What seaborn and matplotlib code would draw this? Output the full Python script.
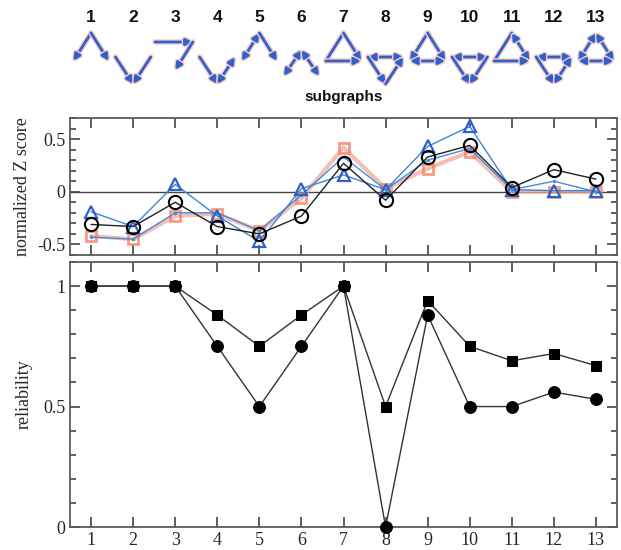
import matplotlib
matplotlib.use('Agg')
import matplotlib.pyplot as plt
import matplotlib.patheffects as pe
from matplotlib.ticker import MultipleLocator
import seaborn as sns
import pandas as pd

# subgraph ids 1..13
subgraphs = list(range(1, 14))

# normalized Z score panel
z_circle = [-0.31, -0.33, -0.10, -0.33, -0.40, -0.23, 0.27, -0.08, 0.33, 0.44, 0.04, 0.21, 0.12]
z_triangle = [-0.19, -0.33, 0.07, -0.23, -0.47, 0.03, 0.16, 0.02, 0.43, 0.62, 0.02, 0.01, 0.01]
z_square = [-0.42, -0.45, -0.23, -0.21, -0.37, -0.06, 0.42, 0.03, 0.22, 0.38, 0.00, 0.00, 0.00]
z_thin = [-0.43, -0.45, -0.20, -0.20, -0.37, -0.03, 0.33, 0.02, 0.30, 0.41, 0.02, 0.10, 0.00]

# reliability panel
rel_square = [1.0, 1.0, 1.0, 0.88, 0.75, 0.88, 1.0, 0.5, 0.94, 0.75, 0.69, 0.72, 0.67]
rel_circle = [1.0, 1.0, 1.0, 0.75, 0.5, 0.75, 1.0, 0.0, 0.88, 0.5, 0.5, 0.56, 0.53]

df_z = pd.DataFrame({'subgraph': subgraphs, 'circle': z_circle, 'triangle': z_triangle,
                     'square': z_square, 'thin': z_thin})
df_r = pd.DataFrame({'subgraph': subgraphs, 'square': rel_square, 'circle': rel_circle})

sns.set_style('ticks')
plt.rcParams['font.family'] = ['Liberation Serif', 'DejaVu Serif']

BLUE = '#2d62c8'
FRAME = '#5a5a5a'

fig = plt.figure(figsize=(6.21, 5.5), dpi=100)
ax_top = fig.add_axes([70 / 621, 1 - 105 / 550, 547 / 621, 105 / 550])
ax_z = fig.add_axes([70 / 621, 1 - 255 / 550, 547 / 621, 137 / 550])
ax_r = fig.add_axes([70 / 621, 1 - 527 / 550, 547 / 621, 265 / 550])


def style_axis(ax):
    for s in ax.spines.values():
        s.set_color(FRAME)
        s.set_linewidth(1.3)
    ax.tick_params(which='both', direction='in', top=True, right=True,
                   color='#333333', width=1.1)
    ax.tick_params(which='major', length=7)
    ax.tick_params(which='minor', length=4)
    ax.tick_params(axis='x', which='minor', top=False, bottom=False)
    ax.set_xlim(0.5, 13.5)
    ax.set_xticks(subgraphs)


# ---- middle panel: normalized Z score
ax_z.axhline(0, color='#444444', lw=1.0, zorder=1)
sns.lineplot(data=df_z, x='subgraph', y='square', ax=ax_z, color='#f6a898', lw=3.0, alpha=0.75,
             marker='s', markersize=7.5, markerfacecolor='none', markeredgecolor='#f47a5e',
             markeredgewidth=2.0, zorder=2)
sns.lineplot(data=df_z, x='subgraph', y='thin', ax=ax_z, color='#3f8fe0', lw=1.0,
             marker='o', markersize=2.5, markeredgewidth=0, zorder=3)
sns.lineplot(data=df_z, x='subgraph', y='triangle', ax=ax_z, color='#3a86dc', lw=1.0,
             marker='^', markersize=8.5, markerfacecolor='none', markeredgecolor=BLUE,
             markeredgewidth=1.6, zorder=4)
sns.lineplot(data=df_z, x='subgraph', y='circle', ax=ax_z, color='#222222', lw=1.0,
             marker='o', markersize=9.5, markerfacecolor='none', markeredgecolor='black',
             markeredgewidth=1.5, zorder=5)
style_axis(ax_z)
ax_z.set_ylim(-0.6, 0.7)
ax_z.set_yticks([-0.5, 0, 0.5])
ax_z.set_yticklabels(['-0.5', '0', '0.5'], fontsize=13)
ax_z.yaxis.set_minor_locator(MultipleLocator(0.1))
ax_z.set_xticklabels([])
ax_z.set_xlabel('')
ax_z.set_ylabel('normalized Z score', fontsize=13)
ax_z.yaxis.set_label_coords(-0.072, 0.5)

# ---- bottom panel: reliability
sns.lineplot(data=df_r, x='subgraph', y='square', ax=ax_r, color='#333333', lw=1.0,
             marker='s', markersize=7.5, markerfacecolor='black', markeredgecolor='black', zorder=3)
sns.lineplot(data=df_r, x='subgraph', y='circle', ax=ax_r, color='#333333', lw=1.0,
             marker='o', markersize=8.5, markerfacecolor='black', markeredgecolor='black', zorder=3,
             clip_on=False)
style_axis(ax_r)
ax_r.set_ylim(0, 1.1)
ax_r.set_yticks([0, 0.5, 1])
ax_r.set_yticklabels(['0', '0.5', '1'], fontsize=13)
ax_r.yaxis.set_minor_locator(MultipleLocator(0.1))
ax_r.set_xticklabels([str(s) for s in subgraphs], fontsize=13)
ax_r.set_xlabel('')
ax_r.set_ylabel('reliability', fontsize=13)
ax_r.yaxis.set_label_coords(-0.068, 0.5)

# ---- top strip: subgraph drawings
ax_top.set_xlim(0.5, 13.5)
ax_top.set_ylim(105, 0)
ax_top.axis('off')

halo = [pe.Stroke(linewidth=4.0, foreground='#f6cccc'), pe.Normal()]
W = 0.42
up = {'A': (0, 33), 'L': (-W, 61), 'R': (W, 61)}
down = {'L': (-W, 57), 'R': (W, 57), 'B': (0, 84)}
low_up = {'A': (0, 50), 'L': (-W, 76), 'R': (W, 76)}
chain = {'P': (-0.48, 42), 'Q': (0.42, 42), 'S': (0.0, 70)}

# (layout, [(from, to, style)]) ; style '>' one way, '<>' both ways, '-' plain
motifs = [
    (up, [('A', 'L', '>'), ('A', 'R', '>')]),
    (down, [('L', 'B', '>'), ('R', 'B', '>')]),
    (chain, [('P', 'Q', '>'), ('Q', 'S', '>')]),
    (down, [('L', 'B', '>'), ('B', 'R', '<>')]),
    (up, [('A', 'L', '<>'), ('A', 'R', '>')]),
    (low_up, [('A', 'L', '<>'), ('A', 'R', '<>')]),
    (up, [('A', 'L', '-'), ('A', 'R', '>'), ('L', 'R', '>')]),
    (down, [('L', 'R', '<>'), ('L', 'B', '>'), ('B', 'R', '>')]),
    (up, [('A', 'L', '>'), ('A', 'R', '>'), ('L', 'R', '<>')]),
    (down, [('L', 'R', '<>'), ('L', 'B', '>'), ('R', 'B', '>')]),
    (up, [('A', 'L', '-'), ('A', 'R', '<>'), ('L', 'R', '>')]),
    (down, [('L', 'R', '<>'), ('L', 'B', '>'), ('R', 'B', '<>')]),
    (up, [('A', 'L', '<>'), ('A', 'R', '<>'), ('L', 'R', '<>')]),
]
styles = {'>': '-|>', '<>': '<|-|>', '-': '-'}

for i, (nodes, edges) in zip(subgraphs, motifs):
    for a, b, st in edges:
        xa, ya = nodes[a]
        xb, yb = nodes[b]
        ax_top.annotate('', xy=(i + xb, yb), xytext=(i + xa, ya),
                        arrowprops=dict(arrowstyle=styles[st], color=BLUE, lw=2.0,
                                        mutation_scale=9.5, shrinkA=0, shrinkB=0,
                                        path_effects=halo))
    ax_top.text(i, 18, str(i), ha='center', va='center', fontsize=12.5, fontweight='bold',
                family=['Liberation Sans', 'DejaVu Sans'], color='#111111')

ax_top.text(7, 97, 'subgraphs', ha='center', va='center', fontsize=11, fontweight='bold',
            family=['Liberation Sans', 'DejaVu Sans'], color='#111111')

fig.savefig('out.png', dpi=100)
